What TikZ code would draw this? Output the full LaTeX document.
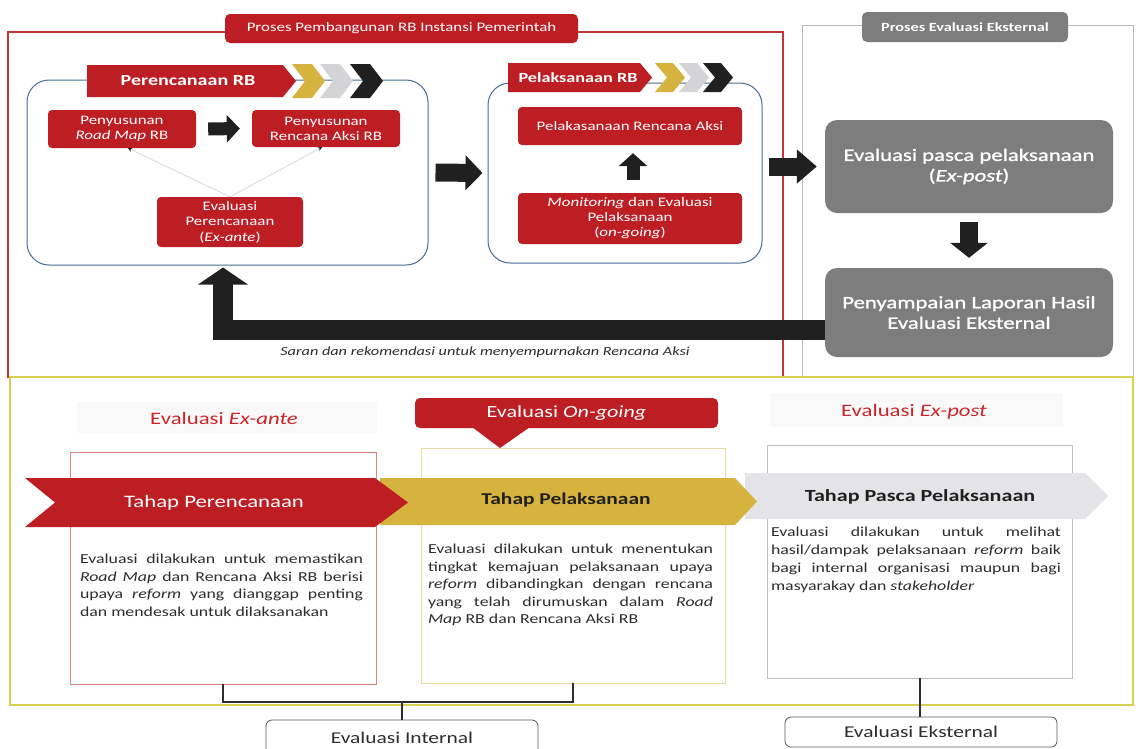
\documentclass[tikz,border=0pt]{standalone}
\usepackage{fontspec}
\setmainfont{Carlito}[FakeStretch=1.3]
\newfontfamily\rbsemi{Carlito}[FakeStretch=1.3, FakeBold=1.2]
\usetikzlibrary{arrows.meta,calc}
\definecolor{rbred}{RGB}{188,30,36}
\definecolor{rbhead}{RGB}{200,38,42}
\definecolor{rbgold}{RGB}{214,178,62}
\definecolor{rbgray}{RGB}{125,125,125}
\definecolor{rbblue}{RGB}{70,110,150}
\definecolor{rblight}{RGB}{228,228,231}
\definecolor{rbchevgray}{RGB}{212,212,215}
\definecolor{rbyel}{RGB}{218,208,80}
\definecolor{rbtext}{RGB}{45,45,45}
\definecolor{rbdark}{RGB}{32,32,32}
\definecolor{rbpink}{RGB}{222,130,130}
\definecolor{rbcream}{RGB}{228,220,160}
\newcommand\fs[2]{\fontsize{#1}{#2}\selectfont}
\newcommand\rbchev[6]{%
  \fill[#1] (#2,#3-#4) -- (#2+#5,#3-#4) -- (#2+#5+#6,#3) -- (#2+#5,#3+#4) -- (#2,#3+#4) -- (#2+#6,#3) -- cycle;}
\tikzset{
  redbox/.style={fill=rbred, rounded corners=4pt, text=white, align=center, inner sep=1pt, font=\fs{13}{15}},
  graybox/.style={fill=rbgray, rounded corners=12pt, text=white, align=center, font=\rbsemi\fs{17.5}{20.5}},
  bluebox/.style={draw=rbblue, rounded corners=22pt, line width=1pt},
  fat/.style={draw=rbdark},
  thinc/.style={draw=gray!30, line width=0.8pt, -{Stealth[length=4pt,width=4pt,color=rbdark]}},
  body/.style={anchor=north, inner sep=0pt, align=justify, text=rbtext, font=\fs{13.7}{17.5}},
  stagebox/.style={line width=0.8pt},
  brk/.style={draw=rbtext, line width=2pt},
  evbox/.style={draw=rbtext!80, rounded corners=6pt, line width=0.8pt, text=rbtext, font=\fs{16.5}{18}},
}
\begin{document}
\begin{tikzpicture}[x=1pt,y=-1pt]
\useasboundingbox (0,0) rectangle (1140,748);
\fill[white] (0,0) rectangle (1140,748);

% ---------- frames ----------
\draw[draw=rbred!90, line width=1.2pt] (8,32) rectangle (783,377);
\draw[draw=gray!55, line width=0.8pt] (802,25) rectangle (1133,377);
\draw[draw=rbyel, line width=1.5pt] (10,377) rectangle (1133,705);

% ---------- tabs ----------
\node[fill=rbred, rounded corners=5pt, text=white, minimum width=353pt, minimum height=29pt, inner sep=0pt, font=\fs{13}{15}] (tab1) at (401.5,28.5) {Proses Pembangunan RB Instansi Pemerintah};
\node[fill=rbgray, rounded corners=5pt, text=white, minimum width=206pt, minimum height=30pt, inner sep=0pt, font=\bfseries\fs{12.5}{15}] (tab2) at (965,27) {Proses Evaluasi Eksternal};

% ---------- planning box ----------
\node[bluebox, minimum width=401pt, minimum height=185pt] (plan) at (227.5,172.5) {};
\fill[rbred] (87,65) -- (283,65) -- (296,81) -- (283,97) -- (87,97) -- cycle;
\rbchev{rbgold}{292}{81}{17}{20}{13}
\rbchev{rbchevgray}{320}{81}{17}{20}{13}
\rbchev{rbdark}{350}{81}{17}{20}{13}
\node[text=white, font=\bfseries\fs{15.4}{17}] (plabel) at (188,81) {Perencanaan RB};

\node[redbox, minimum width=148pt, minimum height=38pt] (rm) at (122,129) {Penyusunan\\\textit{Road Map} RB};
\node[redbox, minimum width=148pt, minimum height=37pt] (ra) at (326,128.5) {Penyusunan\\Rencana Aksi RB};
\node[redbox, minimum width=146pt, minimum height=50pt, font=\fs{13}{15.5}] (exante) at (230,222) {Evaluasi\\Perencanaan\\(\textit{Ex-ante})};

\draw[thinc] (exante.north) -- ([xshift=6pt]rm.south);
\draw[thinc] (exante.north) -- ([xshift=-4pt]ra.south);
\draw[fat, line width=13pt, -{Triangle[width=27pt,length=13pt]}] ([xshift=12pt]rm.east) -- ([xshift=-12pt]ra.west);

% ---------- implementation box ----------
\node[bluebox, minimum width=274pt, minimum height=180pt] (impl) at (625,173) {};
\fill[rbred] (508,63) -- (640,63) -- (652,77.5) -- (640,92) -- (508,92) -- cycle;
\rbchev{rbgold}{655}{77.5}{14.5}{18}{12}
\rbchev{rbchevgray}{679}{77.5}{14.5}{18}{12}
\rbchev{rbdark}{703}{77.5}{14.5}{18}{12}
\node[text=white, font=\bfseries\fs{14}{16}] (ilabel) at (578,77.5) {Pelaksanaan RB};

\node[redbox, minimum width=224pt, minimum height=38pt] (pra) at (630,126) {Pelakasanaan Rencana Aksi};
\node[redbox, minimum width=224pt, minimum height=51pt, font=\fs{13}{15}] (mon) at (630,218.5) {\textit{Monitoring} dan Evaluasi\\Pelaksanaan\\(\textit{on-going})};
\draw[fat, line width=13pt, -{Triangle[width=28pt,length=13pt]}] ([xshift=3pt,yshift=13pt]mon.north) -- ([xshift=3pt,yshift=-8pt]pra.south);

\draw[fat, line width=18pt, -{Triangle[width=34pt,length=17pt]}] ([xshift=7pt]plan.east) -- ([xshift=-5pt]impl.west);

% ---------- external evaluation ----------
\node[graybox, minimum width=288pt, minimum height=93pt] (expost) at (969,166.5) {Evaluasi pasca pelaksanaan\\(\textit{Ex-post})};
\node[graybox, minimum width=288pt, minimum height=89pt] (lapor) at (969,312.5) {Penyampaian Laporan Hasil\\Evaluasi Eksternal};

\draw[fat, line width=18pt, -{Triangle[width=33pt,length=20pt]}] ([xshift=6pt]impl.east |- expost.west) -- ([xshift=-8pt]expost.west);
\draw[fat, line width=18pt, -{Triangle[width=37pt,length=15pt]}] ([yshift=-9pt]expost.south) -- ([yshift=10pt]lapor.north);

% feedback arrow
\draw[fat, line width=20pt, -{Triangle[width=49pt,length=17pt]}] ([yshift=-17.5pt]lapor.west) -| ([xshift=-4.5pt,yshift=-2pt]plan.south);
\node[text=rbtext, font=\itshape\fs{12.5}{14}] (saran) at (485,352) {Saran dan rekomendasi untuk menyempurnakan Rencana Aksi};

% ---------- bottom: evaluation stages ----------
\fill[black!2.5] (77,402) rectangle (377,433);
\fill[black!2.5] (770,393) rectangle (1063,427);
\node[text=rbhead, font=\fs{17.5}{20}] (hexa) at (224,418) {Evaluasi \textit{Ex-ante}};
\node[text=rbhead, font=\fs{17.5}{20}] (hexp) at (914,412) {Evaluasi \textit{Ex-post}};
\node[fill=rbred, rounded corners=5pt, text=white, minimum width=303pt, minimum height=30pt, inner sep=0pt, font=\fs{17}{20}] (hong) at (566.5,413) {Evaluasi \textit{On-going}};
\fill[rbred] (472,427) -- (530,427) -- (500,448) -- cycle;

\node[stagebox, draw=rbpink, minimum width=306pt, minimum height=232pt] (b1) at (223,568) {};
\node[stagebox, draw=rbcream, minimum width=304pt, minimum height=235pt] (b2) at (573,565.5) {};
\node[stagebox, draw=gray!50, minimum width=305pt, minimum height=233pt] (b3) at (919.5,561.5) {};

\fill[rblight] (745,473) -- (1085,473) -- (1108,496) -- (1085,519) -- (745,519) -- cycle;
\fill[rbgold] (380,478) -- (735,478) -- (757,501.5) -- (735,525) -- (380,525) -- cycle;
\fill[rbred] (25,478) -- (375,478) -- (408,502.5) -- (375,527) -- (25,527) -- (55,502.5) -- cycle;

\node[text=white, font=\fs{17.5}{20}] (tp1) at (214,503) {Tahap Perencanaan};
\node[text=rbdark, font=\bfseries\fs{16.5}{20}] (tp2) at (566,500) {Tahap Pelaksanaan};
\node[text=rbdark, font=\bfseries\fs{17}{20}] (tp3) at (920,497) {Tahap Pasca Pelaksanaan};

\node[body, text width=283pt] (t1) at (221.5,554) {\hyphenpenalty=10000 Evaluasi dilakukan untuk memastikan\linebreak \textit{Road Map} dan Rencana Aksi RB berisi\linebreak upaya \textit{reform} yang dianggap penting\linebreak dan mendesak untuk dilaksanakan};
\node[body, text width=285pt] (t2) at (570.5,544) {\hyphenpenalty=10000 Evaluasi dilakukan untuk menentukan\linebreak tingkat kemajuan pelaksanaan upaya\linebreak \textit{reform} dibandingkan dengan rencana\linebreak yang telah dirumuskan dalam \textit{Road}\linebreak \textit{Map} RB dan Rencana Aksi RB};
\node[body, text width=290pt, font=\fs{13.7}{18}] (t3) at (916,527) {\hyphenpenalty=10000 Evaluasi dilakukan untuk melihat\linebreak hasil/dampak pelaksanaan \textit{reform} baik\linebreak bagi internal organisasi maupun bagi\linebreak masyarakay dan \textit{stakeholder}};

% ---------- internal / external ----------
\node[evbox, minimum width=272pt, minimum height=35pt] (ei) at (402,737.5) {Evaluasi Internal};
\node[evbox, minimum width=272pt, minimum height=30pt] (ee) at (921,732) {Evaluasi Eksternal};
\coordinate (jn) at (402,702);
\draw[brk] (b1.south) |- (jn) -| (b2.south);
\draw[brk] (jn) -- (ei.north);
\draw[brk] (b3.south) -- (b3.south |- ee.north);
\end{tikzpicture}
\end{document}
